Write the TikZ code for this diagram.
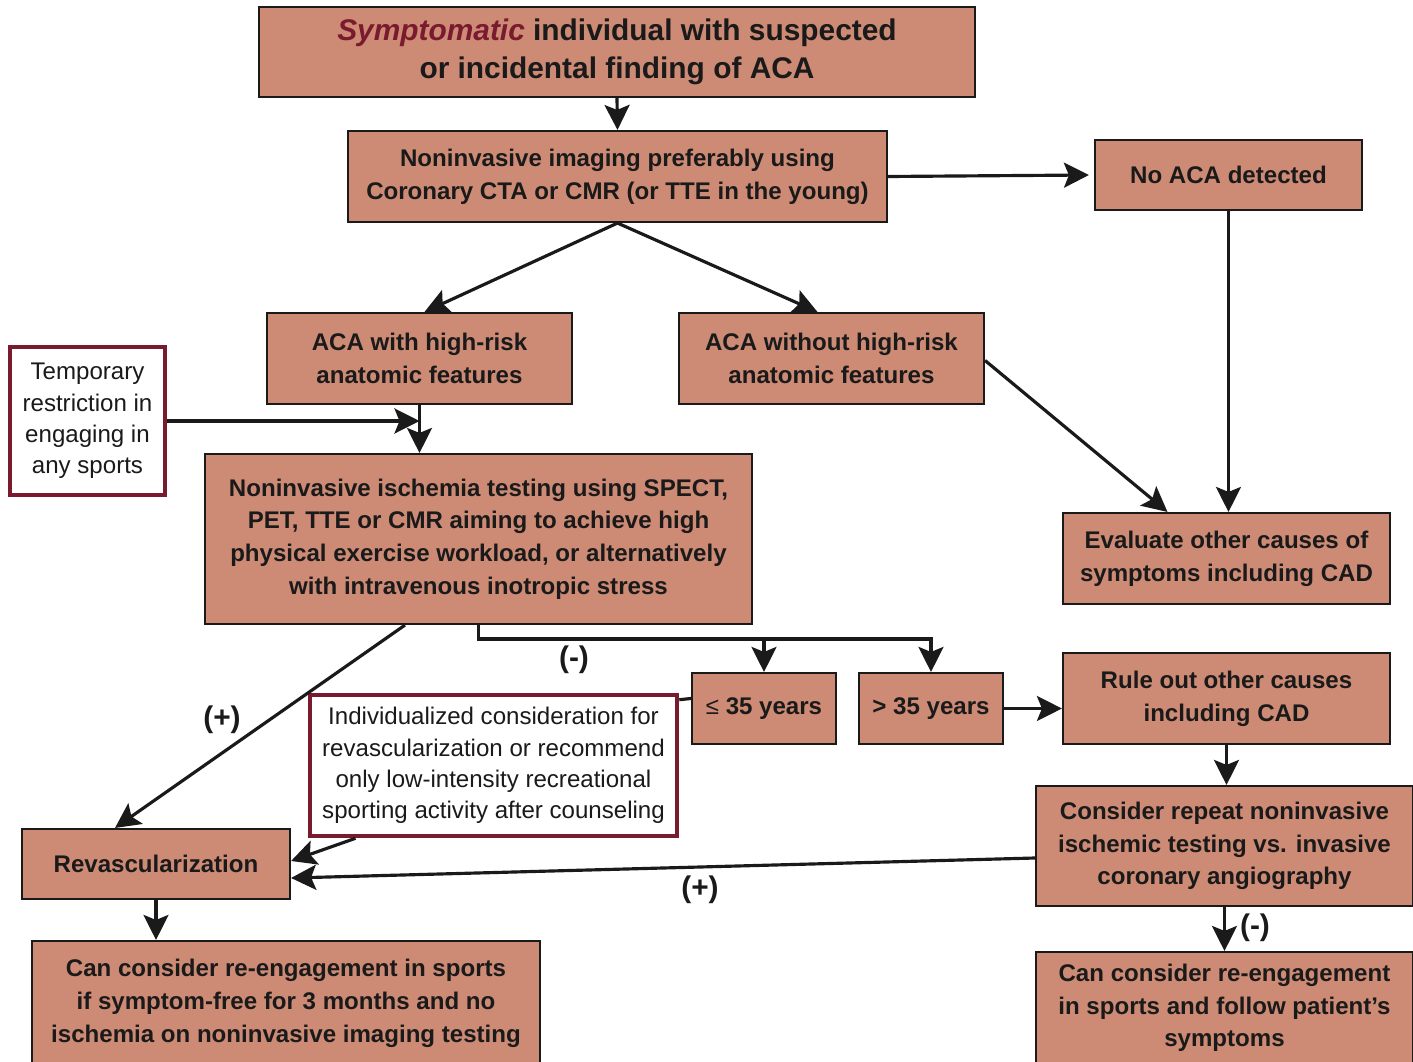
\documentclass[tikz,border=0pt]{standalone}
\usepackage{fontspec}
\setmainfont{Liberation Sans}
\usetikzlibrary{arrows.meta,calc}
\definecolor{salmon}{HTML}{CD8A74}
\definecolor{wine}{HTML}{7A1A2E}
\definecolor{ink}{HTML}{1A1A1A}

\begin{document}
\begin{tikzpicture}[
	box/.style={draw=ink, line width=0.6pt, fill=salmon, align=center, inner sep=0pt, text=ink,
		font=\fontsize{6.85}{9.3}\selectfont\bfseries},
	note/.style={draw=wine, line width=1.3pt, fill=white, align=center, inner sep=0pt, text=ink,
		font=\fontsize{6.85}{8.9}\selectfont},
	arr/.style={-{Stealth[length=2.5mm,width=2.5mm,inset=0.5mm]}, line width=0.9pt, draw=ink},
	line/.style={line width=0.9pt, draw=ink},
	sign/.style={font=\fontsize{8.5}{10}\selectfont\bfseries, text=ink}
]
	\useasboundingbox (0,0) rectangle (14.13,-10.62);

	% first row
	\node[box, minimum width=7.16cm, minimum height=0.90cm, font=\fontsize{8.5}{10.8}\selectfont\bfseries] (top) at (6.17,-0.52)
		{{\color{wine}\itshape Symptomatic} individual with suspected\\or incidental finding of ACA};
	\node[box, minimum width=5.39cm, minimum height=0.91cm] (imaging) at (6.175,-1.765)
		{Noninvasive imaging preferably using\\Coronary CTA or CMR (or TTE in the young)};
	\node[box, minimum width=2.67cm, minimum height=0.70cm] (noaca) at (12.285,-1.75) {No ACA detected};

	% anatomy
	\node[box, minimum width=3.05cm, minimum height=0.91cm] (high) at (4.195,-3.585)
		{ACA with high-risk\\anatomic features};
	\node[box, minimum width=3.05cm, minimum height=0.91cm] (without) at (8.315,-3.585)
		{ACA without high-risk\\anatomic features};
	\node[note, minimum width=1.55cm, minimum height=1.48cm] (temp) at (0.875,-4.21)
		{Temporary\\restriction in\\engaging in\\any sports};

	% testing
	\node[box, minimum width=5.47cm, minimum height=1.70cm] (ischemia) at (4.785,-5.39)
		{Noninvasive ischemia testing using SPECT,\\PET, TTE or CMR aiming to achieve high\\physical exercise workload, or alternatively\\with intravenous inotropic stress};
	\node[box, minimum width=3.27cm, minimum height=0.91cm] (evaluate) at (12.265,-5.585)
		{Evaluate other causes of\\symptoms including CAD};

	% age
	\node[box, minimum width=1.44cm, minimum height=0.71cm] (le35) at (7.64,-7.085) {\textmd{≤} 35 years};
	\node[box, minimum width=1.44cm, minimum height=0.71cm] (gt35) at (9.31,-7.085) {> 35 years};
	\node[box, minimum width=3.27cm, minimum height=0.91cm] (ruleout) at (12.265,-6.985)
		{Rule out other causes\\including CAD};
	\node[note, minimum width=3.67cm, minimum height=1.41cm] (indiv) at (4.935,-7.655)
		{Individualized consideration for\\revascularization or recommend\\only low-intensity recreational\\sporting activity after counseling};

	% bottom
	\node[box, minimum width=2.68cm, minimum height=0.70cm] (revasc) at (1.56,-8.64) {Revascularization};
	\node[box, minimum width=3.77cm, minimum height=1.20cm] (repeat) at (12.245,-8.46)
		{Consider repeat noninvasive\\ischemic testing vs. invasive\\coronary angiography};
	\node[box, minimum width=5.08cm, minimum height=1.25cm] (reengL) at (2.86,-10.035)
		{Can consider re-engagement in sports\\if symptom-free for 3 months and no\\ischemia on noninvasive imaging testing};
	\node[box, minimum width=3.77cm, minimum height=1.12cm] (reengR) at (12.245,-10.08)
		{Can consider re-engagement\\in sports and follow patient’s\\symptoms};

	% arrows
	\draw[arr] (top.south) -- (imaging.north);
	\draw[arr] (imaging.east) -- ([xshift=-0.05cm]noaca.west);
	\draw[arr] (imaging.south) -- ([xshift=0.05cm]high.north);
	\draw[arr] (imaging.south) -- ([xshift=-0.14cm]without.north);
	\draw[arr] (noaca.south) -- (noaca.south |- evaluate.north);
	\draw[arr] ([yshift=-0.02cm]without.east) -- ([xshift=-0.59cm]evaluate.north);
	\draw[arr] (high.south) -- (high.south |- ischemia.north);
	\coordinate (join) at (high.south |- temp.east);
	\draw[arr] (temp.east) -- (join);

	% split below testing
	\coordinate (split) at ($(ischemia.south)+(0,-0.14)$);
	\draw[arr] (ischemia.south) -- (split) -| (gt35.north);
	\draw[arr] (split -| le35.north) -- (le35.north);
	\node[sign] (minusA) at (5.74,-6.6) {(-)};
	\draw[arr] ([xshift=-0.735cm]ischemia.south) -- ([xshift=-0.41cm]revasc.north);
	\node[sign] (plusA) at (2.22,-7.2) {(+)};
	\draw[line] ([yshift=0.1cm]le35.west) -- ([yshift=-0.07cm]indiv.north east);
	\draw[arr] ([xshift=-1.38cm]indiv.south) -- ([yshift=0.03cm]revasc.east);
	\draw[arr] (gt35.east) -- (gt35.east -| ruleout.west);
	\draw[arr] (ruleout.south) -- (ruleout.south |- repeat.north);
	\draw[arr] ([yshift=-0.12cm]repeat.west) -- ([yshift=-0.14cm]revasc.east);
	\node[sign] (plusB) at (7.0,-8.9) {(+)};
	\draw[arr] (repeat.south) -- (repeat.south |- reengR.north);
	\node[sign] (minusB) at (12.55,-9.28) {(-)};
	\draw[arr] (revasc.south) -- (revasc.south |- reengL.north);

\end{tikzpicture}
\end{document}
